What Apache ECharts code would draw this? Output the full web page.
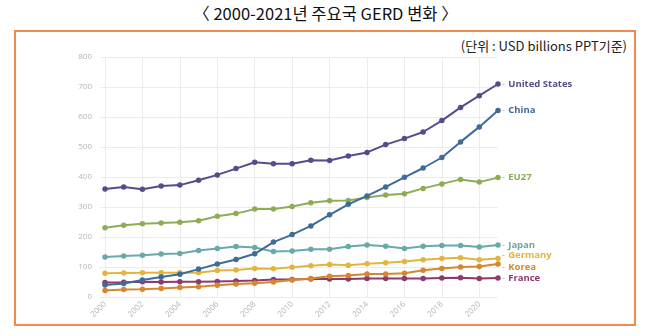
<!DOCTYPE html>
<html>
<head>
<meta charset="utf-8">
<script src="https://cdn.jsdelivr.net/npm/echarts@6/dist/echarts.min.js"></script>
<style>
html,body{margin:0;padding:0;background:#fff;}
#wrap{position:relative;width:651px;height:336px;overflow:hidden;}
#title{position:absolute;left:0;top:3px;width:651px;text-align:center;font-family:"Noto Sans CJK KR","Noto Sans",sans-serif;font-size:16.5px;color:#111;line-height:21px;}
#frame{position:absolute;left:14px;top:30px;width:618px;height:292px;border:2.5px solid #f08a4e;}
#unit{position:absolute;right:24px;top:36px;font-family:"Noto Sans CJK KR","Noto Sans",sans-serif;font-size:13px;color:#222;}
#chart{position:absolute;left:0;top:0;width:651px;height:336px;}
</style>
</head>
<body>
<div id="wrap">
<div id="title">〈 2000-2021년 주요국 GERD 변화 〉</div>
<div id="frame"></div>
<div id="unit">(단위 : USD billions PPT기준)</div>
<div id="chart"></div>
</div>
<script>
const years = ['2000','2001','2002','2003','2004','2005','2006','2007','2008','2009','2010','2011','2012','2013','2014','2015','2016','2017','2018','2019','2020','2021'];
const seriesNames = ['United States','China','EU27','Japan','Germany','Korea','France'];
const unitedStates = [360,367,359,370,373,389,407,428,449,444,444,456,455,470,482,508,528,550,588,632,671,710];
const china = [40,45,57,67,76,93,110,125,144,183,208,237,274,309,337,367,399,430,465,517,567,622];
const eu27 = [231,239,244,247,249,254,269,278,293,293,302,314,321,322,332,340,344,362,377,392,383,398];
const japan = [133,137,139,143,145,155,162,168,165,152,153,159,159,168,173,169,162,169,172,172,167,173];
const germany = [79,80,81,81,81,81,88,90,95,94,99,104,108,106,111,114,118,124,128,131,124,128];
const korea = [22,25,26,28,32,34,39,43,46,50,57,62,69,72,77,77,79,89,95,100,102,110];
const france = [48,49,51,50,51,51,52,53,55,58,58,60,60,60,62,62,62,62,63,64,62,63];
const yTicks = [0,100,200,300,400,500,600,700,800];

const colors = ['#5a4a8c','#3f6b98','#8bae55','#68a9aa','#e2b540','#d5862e','#8a3b70'];
const dataSets = [unitedStates, china, eu27, japan, germany, korea, france];
const labelOffsets = [[0,0],[0,0],[0,0],[0,0],[0,-3],[0,3],[0,0]];

const chart = echarts.init(document.getElementById('chart'), null, {renderer:'canvas'});
chart.setOption({
  animation:false,
  grid:{left:105,right:153,top:57,bottom:39,containLabel:false},
  xAxis:{
    type:'category', data:years, boundaryGap:false,
    axisLine:{show:false}, axisTick:{show:false},
    axisLabel:{interval:1, rotate:45, color:'#b5b5b5', fontSize:8, fontFamily:'Open Sans', margin:6},
    splitLine:{show:true, interval:1, lineStyle:{color:'#ececec', width:1}}
  },
  yAxis:{
    type:'value', min:0, max:800, interval:100,
    axisLine:{show:false},
    axisTick:{show:true, length:5, lineStyle:{color:'#ececec'}},
    axisLabel:{color:'#b5b5b5', fontSize:8, fontFamily:'Open Sans', margin:13,
      formatter:function(v){return yTicks.indexOf(v)>=0 ? String(v) : '';}},
    splitLine:{lineStyle:{color:'#ececec', width:1}}
  },
  series: seriesNames.map(function(name,i){
    return {
      name:name, type:'line', data:dataSets[i],
      symbol:'circle', symbolSize:5.5,
      lineStyle:{color:colors[i], width:2},
      itemStyle:{color:colors[i]},
      z: 10 - i,
      endLabel:{
        show:true, distance:4, offset:labelOffsets[i],
        formatter:'{d|-} {n|'+name+'}',
        rich:{
          d:{color:'#aaa', fontSize:9, fontFamily:'Open Sans'},
          n:{color:colors[i], fontSize:9.5, fontWeight:'bold', fontFamily:'Open Sans'}
        }
      }
    };
  })
});
</script>
</body>
</html>
